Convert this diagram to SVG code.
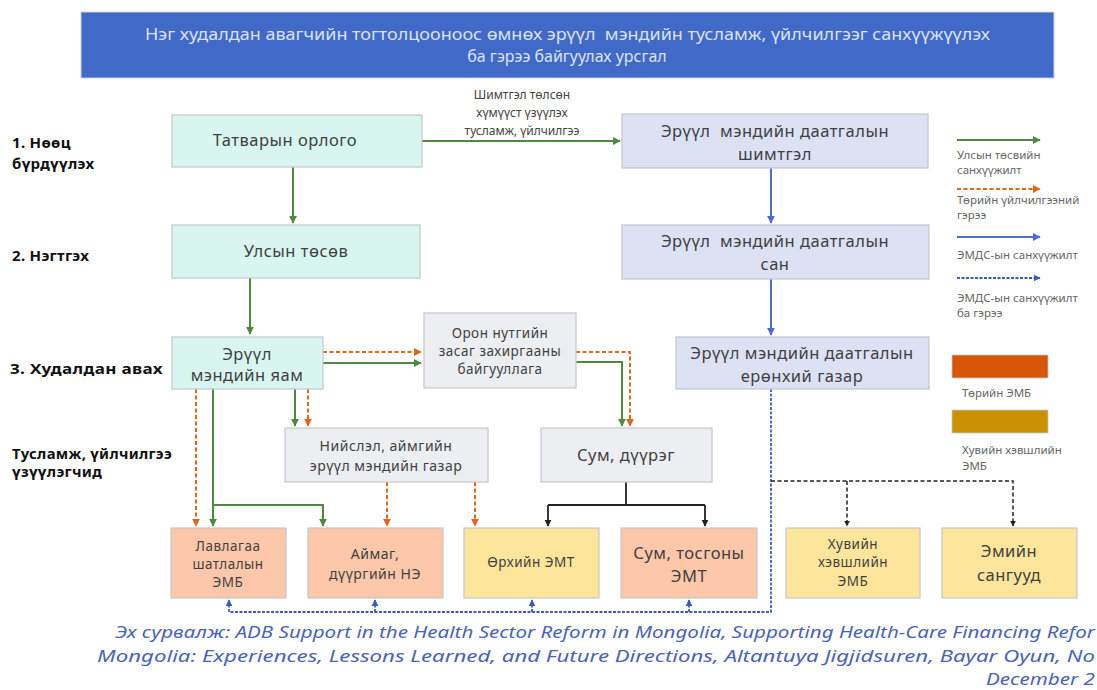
<svg xmlns="http://www.w3.org/2000/svg" width="1097" height="690" viewBox="0 0 1097 690">
<defs>
<style>
.node rect{stroke:#c4c7cc;stroke-width:1.2}
.mint{fill:#d9f5ef}
.lav{fill:#dce1f4}
.gry{fill:#eceef1}
.sal{fill:#fcc8a9}
.yel{fill:#fde69b}
.nt{font-family:"Noto Sans","DejaVu Sans",sans-serif;fill:#3f3f3f;text-anchor:middle;letter-spacing:0.5px}
.lbl{font-family:"Noto Sans","DejaVu Sans",sans-serif;font-weight:bold;fill:#111;font-size:15px;letter-spacing:0.3px}
.leg{font-family:"Noto Sans","DejaVu Sans",sans-serif;fill:#666;font-size:11.5px}
.g{stroke:#4e8a3e;stroke-width:2;fill:none}
.o{stroke:#e0671c;stroke-width:2;fill:none;stroke-dasharray:4 2.5}
.b{stroke:#4a6fd0;stroke-width:2;fill:none}
.bd{stroke:#3a5cc0;stroke-width:1.8;fill:none;stroke-dasharray:3 1.5}
.k{stroke:#222;stroke-width:1.8;fill:none}
.kd{stroke:#222;stroke-width:1.5;fill:none;stroke-dasharray:4 2.5}
</style>
<marker id="ag" viewBox="0 0 10 10" refX="9" refY="5" markerWidth="4" markerHeight="4" orient="auto"><path d="M0,0L10,5L0,10z" fill="#4e8a3e"/></marker>
<marker id="ao" viewBox="0 0 10 10" refX="9" refY="5" markerWidth="4" markerHeight="4" orient="auto"><path d="M0,0L10,5L0,10z" fill="#e0671c"/></marker>
<marker id="ab" viewBox="0 0 10 10" refX="9" refY="5" markerWidth="4" markerHeight="4" orient="auto"><path d="M0,0L10,5L0,10z" fill="#4a6fd0"/></marker>
<marker id="abd" viewBox="0 0 10 10" refX="9" refY="5" markerWidth="4" markerHeight="4" orient="auto"><path d="M0,0L10,5L0,10z" fill="#3a5cc0"/></marker>
<marker id="ak" viewBox="0 0 10 10" refX="9" refY="5" markerWidth="4" markerHeight="4" orient="auto"><path d="M0,0L10,5L0,10z" fill="#222"/></marker>
</defs>
<rect width="1097" height="690" fill="#ffffff"/>

<g id="title">
<rect x="81" y="12" width="973" height="66" fill="#4169c7" stroke="#c9d2ea" stroke-width="1"/>
<text x="145" y="40" xml:space="preserve" textLength="845" lengthAdjust="spacingAndGlyphs" font-family="'Noto Sans',sans-serif" font-size="16" fill="#dbe3f7">Нэг худалдан авагчийн тогтолцооноос өмнөх эрүүл  мэндийн тусламж, үйлчилгээг санхүүжүүлэх</text>
<text x="567" y="62" font-family="'Noto Sans',sans-serif" font-size="16" fill="#dbe3f7" text-anchor="middle">ба гэрээ байгуулах урсгал</text>
</g>

<g id="stage-labels">
<text class="lbl" x="12" y="148">1. Нөөц</text>
<text class="lbl" x="12" y="169">бүрдүүлэх</text>
<text class="lbl" x="12" y="261">2. Нэгтгэх</text>
<text class="lbl" x="10" y="374" textLength="153" lengthAdjust="spacingAndGlyphs">3. Худалдан авах</text>
<text class="lbl" x="12" y="459" textLength="160" lengthAdjust="spacingAndGlyphs">Тусламж, үйлчилгээ</text>
<text class="lbl" x="12" y="477">үзүүлэгчид</text>
</g>

<g id="connectors">
<path class="g" d="M422,141H620" marker-end="url(#ag)"/>
<path class="g" d="M293,167V223" marker-end="url(#ag)"/>
<path class="g" d="M250,278V334" marker-end="url(#ag)"/>
<path class="g" d="M323,363H421" marker-end="url(#ag)"/>
<path class="g" d="M576,362H622V426" marker-end="url(#ag)"/>
<path class="g" d="M295,389V426" marker-end="url(#ag)"/>
<path class="g" d="M213,389V526" marker-end="url(#ag)"/>
<path class="g" d="M213,505H323V526" marker-end="url(#ag)"/>
<path class="o" d="M323,352H421" marker-end="url(#ao)"/>
<path class="o" d="M576,352H630V426" marker-end="url(#ao)"/>
<path class="o" d="M308,389V426" marker-end="url(#ao)"/>
<path class="o" d="M196,389V526" marker-end="url(#ao)"/>
<path class="o" d="M387,482V526" marker-end="url(#ao)"/>
<path class="o" d="M475,482V526" marker-end="url(#ao)"/>
<path class="b" d="M771,168V223" marker-end="url(#ab)"/>
<path class="b" d="M771,279V335" marker-end="url(#ab)"/>
<path class="bd" d="M771,389V612H229"/>
<path class="bd" d="M229,612V600" marker-end="url(#abd)"/>
<path class="bd" d="M375,612V600" marker-end="url(#abd)"/>
<path class="bd" d="M532,612V600" marker-end="url(#abd)"/>
<path class="bd" d="M689,612V600" marker-end="url(#abd)"/>
<path class="k" d="M626,482V505"/>
<path class="k" d="M548,505H705"/>
<path class="k" d="M548,505V526" marker-end="url(#ak)"/>
<path class="k" d="M705,505V526" marker-end="url(#ak)"/>
<path class="kd" d="M771,481H1013V526" marker-end="url(#ak)"/>
<path class="kd" d="M847,481V526" marker-end="url(#ak)"/>
<text x="522" y="99" font-family="'Noto Sans',sans-serif" font-size="12" fill="#444" text-anchor="middle">Шимтгэл төлсөн</text>
<text x="522" y="117" font-family="'Noto Sans',sans-serif" font-size="12" fill="#444" text-anchor="middle">хүмүүст үзүүлэх</text>
<text x="522" y="135" font-family="'Noto Sans',sans-serif" font-size="12" fill="#444" text-anchor="middle">тусламж, үйлчилгээ</text>
</g>

<g id="n-tax" class="node"><rect class="mint" x="172" y="115" width="250" height="52"/><text class="nt" x="285" y="146" font-size="16.5">Татварын орлого</text></g>
<g id="n-budget" class="node"><rect class="mint" x="172" y="225" width="248" height="53"/><text class="nt" x="296" y="257" font-size="16.5">Улсын төсөв</text></g>
<g id="n-moh" class="node"><rect class="mint" x="172" y="337" width="151" height="52"/><text class="nt" x="247" y="360" font-size="16.5">Эрүүл</text><text class="nt" x="247" y="381" font-size="16.5">мэндийн яам</text></g>
<g id="n-local" class="node"><rect class="gry" x="424" y="313" width="152" height="75"/><text class="nt" x="500" y="338" font-size="13.5">Орон нутгийн</text><text class="nt" x="500" y="356" font-size="13.5">засаг захиргааны</text><text class="nt" x="500" y="374" font-size="13.5">байгууллага</text></g>
<g id="n-aimag-dept" class="node"><rect class="gry" x="285" y="428" width="203" height="54"/><text class="nt" x="386" y="451" font-size="14">Нийслэл, аймгийн</text><text class="nt" x="386" y="471" font-size="14">эрүүл мэндийн газар</text></g>
<g id="n-soum" class="node"><rect class="gry" x="541" y="428" width="171" height="54"/><text class="nt" x="626" y="461" font-size="16.5">Сум, дүүрэг</text></g>
<g id="n-contrib" class="node"><rect class="lav" x="622" y="114" width="306" height="54"/><text class="nt" x="775" y="137" font-size="16.5" xml:space="preserve">Эрүүл  мэндийн даатгалын</text><text class="nt" x="775" y="160" font-size="16.5">шимтгэл</text></g>
<g id="n-fund" class="node"><rect class="lav" x="622" y="225" width="307" height="54"/><text class="nt" x="775" y="247" font-size="16.5" xml:space="preserve">Эрүүл  мэндийн даатгалын</text><text class="nt" x="775" y="270" font-size="16.5">сан</text></g>
<g id="n-agency" class="node"><rect class="lav" x="676" y="337" width="253" height="52"/><text class="nt" x="802" y="359" font-size="16.5">Эрүүл мэндийн даатгалын</text><text class="nt" x="802" y="382" font-size="16.5">ерөнхий газар</text></g>

<g id="n-ref" class="node"><rect class="sal" x="171" y="528" width="115" height="70"/><text class="nt" x="228" y="551" font-size="13.5">Лавлагаа</text><text class="nt" x="228" y="569" font-size="13.5">шатлалын</text><text class="nt" x="228" y="587" font-size="13.5">ЭМБ</text></g>
<g id="n-aimag-hosp" class="node"><rect class="sal" x="308" y="528" width="135" height="70"/><text class="nt" x="375" y="559" font-size="14">Аймаг,</text><text class="nt" x="375" y="579" font-size="14">дүүргийн НЭ</text></g>
<g id="n-family" class="node"><rect class="yel" x="464" y="528" width="135" height="70"/><text class="nt" x="531" y="567" font-size="13.5">Өрхийн ЭМТ</text></g>
<g id="n-soum-hc" class="node"><rect class="sal" x="621" y="528" width="136" height="70"/><text class="nt" x="689" y="559" font-size="16.5">Сум, тосгоны</text><text class="nt" x="689" y="582" font-size="16.5">ЭМТ</text></g>
<g id="n-private" class="node"><rect class="yel" x="786" y="528" width="134" height="70"/><text class="nt" x="853" y="549" font-size="13.5">Хувийн</text><text class="nt" x="853" y="567" font-size="13.5">хэвшлийн</text><text class="nt" x="853" y="586" font-size="13.5">ЭМБ</text></g>
<g id="n-pharm" class="node"><rect class="yel" x="942" y="528" width="135" height="70"/><text class="nt" x="1009" y="557" font-size="16.5">Эмийн</text><text class="nt" x="1009" y="581" font-size="16.5">сангууд</text></g>

<g id="legend">
<path class="g" d="M957,140H1040" marker-end="url(#ag)"/>
<text class="leg" x="957" y="159">Улсын төсвийн</text>
<text class="leg" x="957" y="174">санхүүжилт</text>
<path class="o" d="M957,189H1040" marker-end="url(#ao)"/>
<text class="leg" x="957" y="204">Төрийн үйлчилгээний</text>
<text class="leg" x="957" y="219">гэрээ</text>
<path class="b" d="M957,237H1040" marker-end="url(#ab)"/>
<text class="leg" x="957" y="259">ЭМДС-ын санхүүжилт</text>
<path class="bd" d="M957,278H1040" marker-end="url(#abd)"/>
<text class="leg" x="957" y="302">ЭМДС-ын санхүүжилт</text>
<text class="leg" x="957" y="317">ба гэрээ</text>
<rect x="952" y="355" width="96" height="23" fill="#d75608" stroke="#c8c8c8" stroke-width="0.8"/>
<text class="leg" x="962" y="397">Төрийн ЭМБ</text>
<rect x="952" y="410" width="96" height="23" fill="#c99103" stroke="#c8c8c8" stroke-width="0.8"/>
<text class="leg" x="962" y="454">Хувийн хэвшлийн</text>
<text class="leg" x="962" y="470">ЭМБ</text>
</g>

<g id="source" font-family="'Noto Sans','DejaVu Sans',sans-serif" font-style="italic" font-size="16.5" fill="#4a63b8">
<text x="115" y="638" textLength="980" lengthAdjust="spacingAndGlyphs">Эх сурвалж: ADB Support in the Health Sector Reform in Mongolia, Supporting Health-Care Financing Refor</text>
<text x="97" y="662" textLength="998" lengthAdjust="spacingAndGlyphs">Mongolia: Experiences, Lessons Learned, and Future Directions, Altantuya Jigjidsuren, Bayar Oyun, No</text>
<text x="986" y="685" textLength="109" lengthAdjust="spacingAndGlyphs">December 2</text>
</g>
</svg>
